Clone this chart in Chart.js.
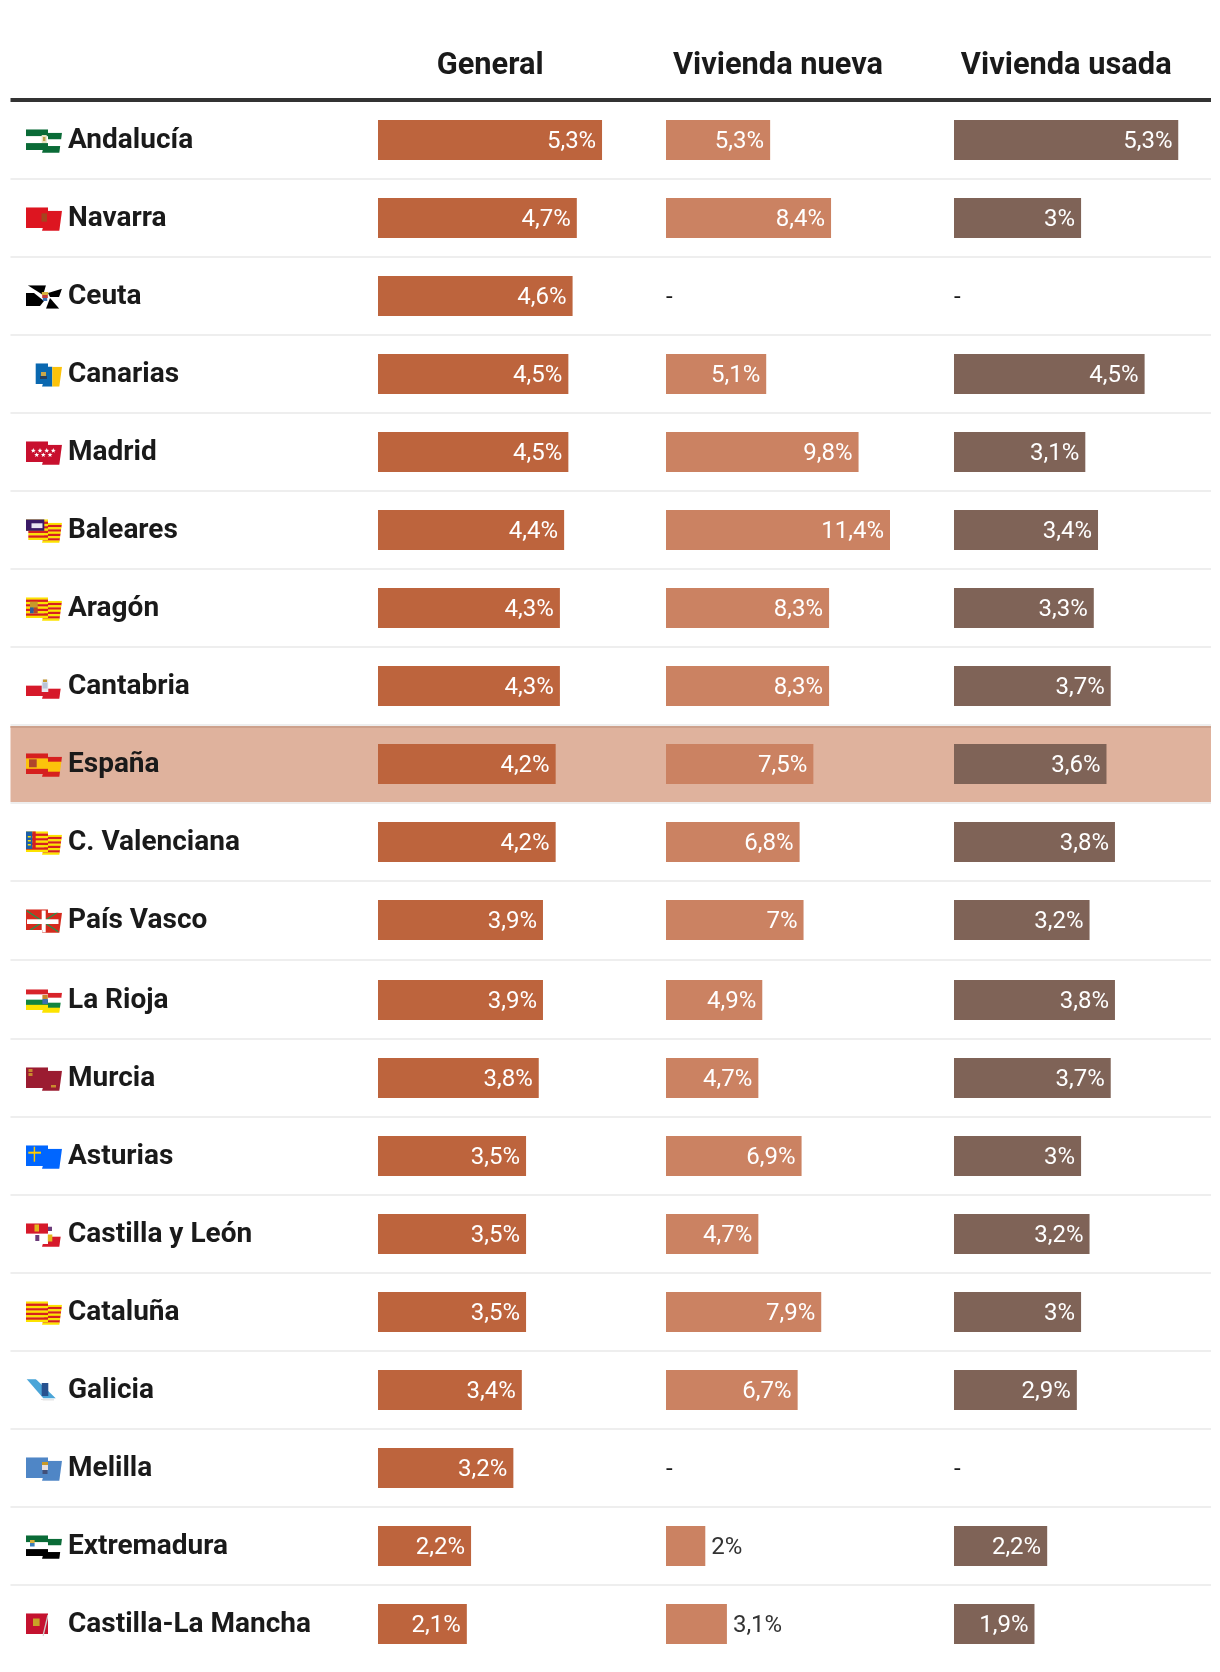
<!DOCTYPE html>
<html lang="es">
<head>
<meta charset="utf-8">
<title>Subida del precio de la vivienda</title>
<style>html,body{margin:0;padding:0;background:#fff}canvas{display:block}</style>
<script src="https://cdn.jsdelivr.net/npm/chart.js@4/dist/chart.umd.js"></script>
</head>
<body>
<canvas id="c" width="1220" height="1672"></canvas>
<script>
const regiones = ["Andalucía","Navarra","Ceuta","Canarias","Madrid","Baleares","Aragón","Cantabria","España","C. Valenciana","País Vasco","La Rioja","Murcia","Asturias","Castilla y León","Cataluña","Galicia","Melilla","Extremadura","Castilla-La Mancha"];
const columnas = ["General","Vivienda nueva","Vivienda usada"];
const general = [5.3,4.7,4.6,4.5,4.5,4.4,4.3,4.3,4.2,4.2,3.9,3.9,3.8,3.5,3.5,3.5,3.4,3.2,2.2,2.1];
const nueva = [5.3,8.4,null,5.1,9.8,11.4,8.3,8.3,7.5,6.8,7,4.9,4.7,6.9,4.7,7.9,6.7,null,2,3.1];
const usada = [5.3,3,null,4.5,3.1,3.4,3.3,3.7,3.6,3.8,3.2,3.8,3.7,3,3.2,3,2.9,null,2.2,1.9];

const coloresBarra = ["#BD643D","#CB8262","#7F6357"];
const INK = "#1a1a1a";
const HIGHLIGHT = "España";
const COL_SPANS = [[378,602.2],[666,890],[954,1178.5]];
const TITLE_FONT = '700 30.8px Roboto';
const VALUE_FONT = '400 24px Roboto';

/* --- flags: decoration next to the row labels, coordinates relative to the flag origin --- */
const R="#d6201f",Y="#fce300",G="#0a6b37",W="#ffffff",K="#000000";
const ARAGON=[Y,R,Y,R,Y,R,Y,R,Y];
const flagArt = {
  "Andalucía":{bands:[G,W,G],shapes:[["r","#e6e2c0",15.7,-5,5,8],["r","#b9a24a",17,-3,2.4,4]]},
  "Navarra":{bands:["#dd1520"],shapes:[["r","#a5441f",15.5,-4.7,5.5,8.4]]},
  "Ceuta":{bands:[W],shapes:[["p",K,[1.7,-10.7,20,-10.7,17,-1]],["p",K,[0,-3,8,-3,18,5,14,10,0,10]],["p",K,[22,-3,36,-7.3,33,1,24,1]],["p",K,[24,2,33.3,12.7,20,12.7]],["r","#d7b13c",15.8,-4,6.4,3],["r","#c23a3a",16.2,-1,5.6,3],["r","#3d6fb0",16.8,2,4.4,3]]},
  "Canarias":{bands:[W],shapes:[["r","#0a68b0",9.7,-10.7,16.6,23.4],["r","#fcc30b",26.3,-7.3,10,20],["r","#c9a64a",15,-2,5,4],["r","#26405f",14,2,7,3]]},
  "Madrid":{bands:["#c8102e"],shapes:[["s",W,7.3,-1.3],["s",W,14,-1.3],["s",W,20.7,-1.3],["s",W,27.3,-1.3],["s",W,10.7,3],["s",W,17.3,3],["s",W,24,3]]},
  "Baleares":{bands:ARAGON,shapes:[["r",W,0,0.8,2.3,10],["r","#3a1a66",0,-10.7,18.3,11.5],["r","#e9e4f0",5.5,-6.7,11,4.8]]},
  "Aragón":{bands:ARAGON,shapes:[["r","#c89a2a",4,-6.3,7.7,5.6],["r","#2b5d9b",4,-0.7,3.8,6],["r","#b4442b",7.8,-0.7,3.9,6]]},
  "Cantabria":{bands:[W,"#d6192a"],shapes:[["r","#e7e7ee",15.7,-6.5,6.6,12.5],["r","#b8c4d8",16.5,-3.5,5,6],["r","#c79a2e",17,-6.5,4,2.5]]},
  "España":{bands:[R,"#fcc30b","#fcc30b",R],shapes:[["r","#b0452c",3,-4.7,7.7,8]]},
  "C. Valenciana":{bands:ARAGON,shapes:[["r","#1c5fa8",0,-10.7,6.5,17.7],["r",R,6.5,-10.7,3.2,17.7],["r",Y,1.8,-6,3,1.5],["r",Y,1.8,-2,3,1.5],["r",Y,1.8,2,3,1.5]]},
  "País Vasco":{bands:["#d52b1e"],shapes:[["l","#1a9a50",0.7,-9.3,32.3,11.7],["l","#1a9a50",32.3,-8.3,1.7,11.7],["r",W,15.7,-9.5,4,22],["r",W,1,-0.7,31.5,4.7]]},
  "La Rioja":{bands:["#d8232a",W,"#12853f",Y],shapes:[["r","#c9862c",16.4,-5,5.4,4],["r","#3d6fb0",16.4,-1,5.4,5]]},
  "Murcia":{bands:["#9b1c31"],shapes:[["r","#c98a2e",2.5,-9,4,3],["r","#c98a2e",2.5,-5,4,3],["r","#c98a2e",25,7,5,2.5]]},
  "Asturias":{bands:["#0066ff"],shapes:[["r","#ffcc00",7.7,-9.3,1.4,15],["r","#ffcc00",2.3,-4.3,12.7,2]]},
  "Castilla y León":{left:["#d6192a",W],right:[W,"#d6192a"],shapes:[["r","#e3b71e",8.5,-9.5,4.5,7],["r","#e3b71e",21.8,0.5,4.5,7],["r","#6b3b7a",22,-9,4,6],["r","#6b3b7a",9.3,1,4,6]]},
  "Cataluña":{bands:ARAGON,shapes:[]},
  "Galicia":{bands:[W],shapes:[["p","#4aa5d8",[0,-11.7,9,-11.7,29.7,8.3,17.3,8.3]],["r","#27528f",15.7,-7,6.6,13],["r","#e6e6e6",15,9,13,1.5]]},
  "Melilla":{bands:["#4f86c6"],shapes:[["r","#c89a2a",16,-6,6,3],["r","#e8e0e0",16,-3,6,5],["r","#41507a",16.5,2,5,4]]},
  "Extremadura":{bands:[G,W,K],shapes:[["r","#d9b13a",4,-6,4.6,3],["r","#3d7fb8",4,-3,4.6,3.5]]},
  "Castilla-La Mancha":{left:["#c4122f"],right:[W],shapes:[["r","#c9a227",7,-5.5,6.6,7.5],["l","#cfcfcf",22,-9,17,12]]}
};
const FLAG_LEFT = 26;
const PART_LEFT = {poly:[0,-10.7,22,-10.7,22,10,0,10],top:-10.7,bottom:10};
const PART_RIGHT = {poly:[22,-7.3,36,-7.3,33.3,12.7,16,12.7],top:-7.3,bottom:12.7};

function tracePoly(ctx,pts,ox,oy){
  ctx.beginPath();
  for(let i=0;i<pts.length;i+=2){
    if(i===0)ctx.moveTo(ox+pts[i],oy+pts[i+1]);else ctx.lineTo(ox+pts[i],oy+pts[i+1]);
  }
  ctx.closePath();
}
function traceStar(ctx,x,y,r){
  ctx.beginPath();
  for(let i=0;i<10;i++){
    const a=-Math.PI/2+i*Math.PI/5,q=i%2?r*0.42:r;
    ctx.lineTo(x+q*Math.cos(a),y+q*Math.sin(a));
  }
  ctx.closePath();
}
function paintFlag(ctx,art,ox,oy){
  const parts=[[PART_RIGHT,art.right||art.bands],[PART_LEFT,art.left||art.bands]];
  ctx.save();
  for(const [part,bands] of parts){
    ctx.save();
    tracePoly(ctx,part.poly,ox,oy);ctx.clip();
    const h=(part.bottom-part.top)/bands.length;
    bands.forEach((col,i)=>{ctx.fillStyle=col;ctx.fillRect(ox-1,oy+part.top+i*h,40,h+0.3);});
    ctx.restore();
  }
  ctx.beginPath();
  ctx.rect(ox,oy+PART_LEFT.top,22,PART_LEFT.bottom-PART_LEFT.top);
  ctx.moveTo(ox+22,oy+PART_RIGHT.top);ctx.lineTo(ox+36,oy+PART_RIGHT.top);ctx.lineTo(ox+33.3,oy+PART_RIGHT.bottom);ctx.lineTo(ox+16,oy+PART_RIGHT.bottom);ctx.closePath();
  ctx.clip();
  for(const s of art.shapes){
    if(s[0]==="r"){ctx.fillStyle=s[1];ctx.fillRect(ox+s[2],oy+s[3],s[4],s[5]);}
    else if(s[0]==="p"){ctx.fillStyle=s[1];tracePoly(ctx,s[2],ox,oy);ctx.fill();}
    else if(s[0]==="s"){ctx.fillStyle=s[1];traceStar(ctx,ox+s[2],oy+s[3],2.6);ctx.fill();}
    else if(s[0]==="l"){ctx.strokeStyle=s[1];ctx.lineWidth=1.3;ctx.beginPath();ctx.moveTo(ox+s[2],oy+s[3]);ctx.lineTo(ox+s[4],oy+s[5]);ctx.stroke();}
  }
  ctx.restore();
}

/* --- scales: a linear scale confined to one table column, a category scale with the table's row step --- */
class ColumnScale extends Chart.LinearScale{
  configure(){
    const span=this.options.span;
    this.left=span[0];this.right=span[1];this.width=span[1]-span[0];
    super.configure();
  }
}
ColumnScale.id="column";
ColumnScale.defaults=Chart.LinearScale.defaults;
class RowScale extends Chart.CategoryScale{
  getPixelForValue(value,index){
    const px=super.getPixelForValue(value,index);
    const i=typeof value==="number"?value:this.parse(value);
    return i>=this.options.stepAfter?px+2:px;
  }
}
RowScale.id="rows";
RowScale.defaults=Chart.CategoryScale.defaults;
Chart.register(ColumnScale,RowScale);

const tablePlugin={
  id:"table",
  beforeDraw(chart){
    const {ctx,scales:{y}}=chart,L=10.5,Rt=1211;
    ctx.save();
    ctx.fillStyle="#333333";ctx.fillRect(L,98,Rt-L,4);
    ctx.fillStyle="#eeeeee";
    for(let i=0;i<regiones.length-1;i++){
      const m=(y.getPixelForValue(i)+y.getPixelForValue(i+1))/2;
      ctx.fillRect(L,m-1,Rt-L,2);
    }
    const h=regiones.indexOf(HIGHLIGHT);
    const top=(y.getPixelForValue(h-1)+y.getPixelForValue(h))/2+1,bot=(y.getPixelForValue(h)+y.getPixelForValue(h+1))/2-1;
    ctx.fillStyle="#DFB29D";ctx.fillRect(L,top,Rt-L,bot-top);
    ctx.fillStyle="#CDA18C";ctx.fillRect(L,top,Rt-L,2);
    regiones.forEach((r,i)=>paintFlag(ctx,flagArt[r],FLAG_LEFT,y.getPixelForValue(i)));
    ctx.restore();
  },
  afterDatasetsDraw(chart){
    const {ctx,scales}=chart;
    ctx.save();
    ctx.textBaseline="middle";
    ctx.font=TITLE_FONT;ctx.fillStyle=INK;ctx.textAlign="center";
    columnas.forEach((t,k)=>{
      const s=scales["x"+k];
      ctx.fillText(t,(s.left+s.right)/2,66);
    });
    ctx.font=VALUE_FONT;
    chart.data.datasets.forEach((ds,k)=>{
      const meta=chart.getDatasetMeta(k),s=scales["x"+k];
      ds.data.forEach((v,i)=>{
        const cy=scales.y.getPixelForValue(i)+2;
        if(v===null){ctx.textAlign="left";ctx.fillStyle=INK;ctx.fillText("-",s.left,cy);return;}
        const label=String(v).replace(".",",")+"%";
        const bar=meta.data[i],w=ctx.measureText(label).width;
        if(bar.x-s.left>w+25){ctx.textAlign="right";ctx.fillStyle="#ffffff";ctx.fillText(label,bar.x-6,cy);}
        else{ctx.textAlign="left";ctx.fillStyle="#333333";ctx.fillText(label,bar.x+6,cy);}
      });
    });
    ctx.restore();
  }
};

const seriesValues=[general,nueva,usada];
const xScales={};
columnas.forEach((_,k)=>{
  xScales["x"+k]={type:"column",position:"top",display:false,min:0,max:Math.max(...seriesValues[k].filter(v=>v!==null)),span:COL_SPANS[k]};
});
new Chart(document.getElementById("c"),{
  type:"bar",
  data:{
    labels:regiones,
    datasets:columnas.map((name,k)=>({
      label:name,data:seriesValues[k],xAxisID:"x"+k,yAxisID:"y",
      backgroundColor:coloresBarra[k],grouped:false,maxBarThickness:40,borderWidth:0
    }))
  },
  options:{
    indexAxis:"y",responsive:false,animation:false,devicePixelRatio:1,
    layout:{padding:{left:68,right:9,top:101,bottom:11}},
    plugins:{legend:{display:false},tooltip:{enabled:false}},
    scales:Object.assign({
      y:{type:"rows",stepAfter:11,afterFit(s){s.width=310;s.paddingTop=0;s.paddingBottom=0;},
        grid:{display:false,drawTicks:false},border:{display:false},
        ticks:{autoSkip:false,crossAlign:"far",padding:0,labelOffset:1,color:INK,font:{family:"Roboto",size:28,weight:"700"}}}
    },xScales)
  },
  plugins:[tablePlugin]
});
</script>
</body>
</html>
